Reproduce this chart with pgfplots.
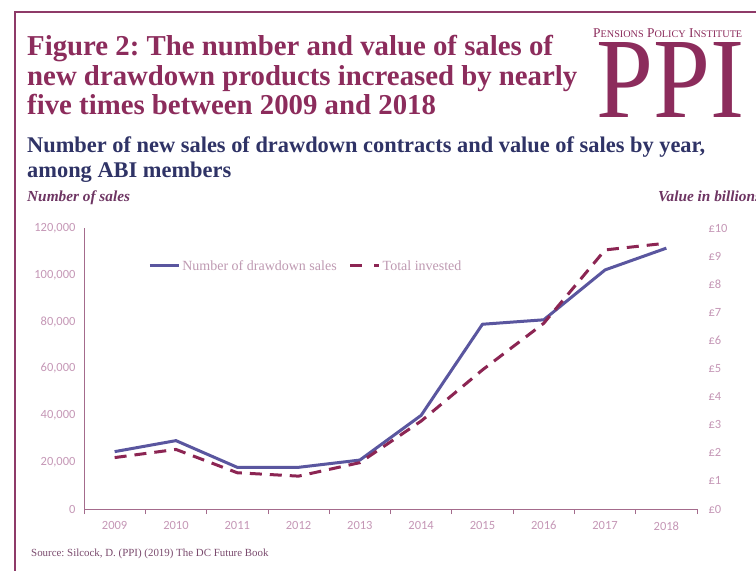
\documentclass[border=0pt]{standalone}
\usepackage{fontspec}
\setmainfont{Liberation Serif}
\newfontfamily\carlito{Carlito}
\usepackage{pgfplots}
\pgfplotsset{compat=1.18}
\usepackage{graphicx}
\definecolor{ppimaroon}{HTML}{8C2C5C}
\definecolor{framecol}{HTML}{8E3A68}
\definecolor{subnavy}{HTML}{2F3366}
\definecolor{axlab}{HTML}{6E3563}
\definecolor{ticklab}{HTML}{C597B6}
\definecolor{axiscol}{HTML}{A46B8C}
\definecolor{lineblue}{HTML}{5A569F}
\definecolor{linemaroon}{HTML}{8C2553}
\definecolor{legtext}{HTML}{BF9AB2}
\definecolor{srccol}{HTML}{7B4B6E}
\newcommand{\sccap}[2]{{\fontsize{10}{10}\selectfont #1}{\fontsize{7.6}{8}\selectfont #2}}
\frenchspacing
\begin{document}
\begin{tikzpicture}[x=1pt,y=1pt]
\fill[white] (0,0) rectangle (756,-571);
\draw[framecol, line width=2pt] (15,-575) -- (15,-12) -- (760,-12);
% titles
\begin{scope}[every node/.style={anchor=base west, inner sep=0pt, text=ppimaroon, font=\fontsize{28.8}{30}\selectfont\bfseries}]
\node at (27,-55) {Figure 2: The number and value of sales of};
\node at (27,-85) {new drawdown products increased by nearly};
\node at (27,-114) {five times between 2009 and 2018};
\end{scope}
\begin{scope}[every node/.style={anchor=base west, inner sep=0pt, text=subnavy, font=\fontsize{22.4}{24}\selectfont\bfseries}]
\node at (27,-152) {Number of new sales of drawdown contracts and value of sales by year,};
\node at (27,-177) {among ABI members};
\end{scope}
% logo
\node[anchor=base west, inner sep=0pt, text=ppimaroon] at (593,-37) {\resizebox{149pt}{!}{\sccap{P}{ENSIONS} \sccap{P}{OLICY} \sccap{I}{NSTITUTE}}};
\node[anchor=south west, inner sep=0pt, text=ppimaroon] at (596,-118) {\resizebox{148pt}{75pt}{\fontsize{100}{100}\selectfont PPI}};
% axis labels
\node[anchor=base west, inner sep=0pt, text=axlab, font=\fontsize{15.3}{16}\selectfont\bfseries\itshape] at (27,-201) {Number of sales};
\node[anchor=base west, inner sep=0pt, text=axlab, font=\fontsize{15.3}{16}\selectfont\bfseries\itshape] at (658,-201) {Value in billions};
% source
\node[anchor=base west, inner sep=0pt, text=srccol, font=\fontsize{10.9}{12}\selectfont] at (31,-556) {Source: Silcock, D. (PPI) (2019) The DC Future Book};

\begin{axis}[
  at={(84pt,-509pt)}, anchor=south west,
  scale only axis, width=613pt, height=281pt,
  xmin=-0.5, xmax=9.5, ymin=0, ymax=120000,
  axis x line*=bottom, axis y line*=left,
  axis line style={draw=axiscol, line width=1pt},
  xtick={0,1,2,3,4,5,6,7,8,9},
  xticklabels={2009,2010,2011,2012,2013,2014,2015,2016,2017,2018},
  ytick={0,20000,40000,60000,80000,100000,120000},
  yticklabels={0,{20,000},{40,000},{60,000},{80,000},{100,000},{120,000}},
  scaled y ticks=false,
  major tick length=0pt,
  minor xtick={-0.5,0.5,1.5,2.5,3.5,4.5,5.5,6.5,7.5,8.5,9.5},
  minor tick length=5pt,
  tick align=outside,
  every minor tick/.style={draw=axiscol, line width=0.8pt},
  ticklabel style={font=\carlito\fontsize{12.5}{14}\selectfont, text=ticklab},
  yticklabel style={xshift=-5pt},
  xticklabel style={yshift=-9pt},
  legend style={at={(0.362,0.865)}, anchor=center, draw=none, fill=none,
    font=\fontsize{14}{16}\selectfont, text=legtext,
    legend columns=2,
    /tikz/every even column/.append style={column sep=10pt}},
  legend image code/.code={\draw[#1] (0pt,0pt) -- (29pt,0pt);},
]
\addplot[lineblue, line width=3pt, line join=round] coordinates {
(0,24500) (1,29200) (2,17800) (3,17800) (4,20900) (5,40000) (6,78900) (7,80800) (8,102100) (9,111400)};
\addlegendentry{Number of drawdown sales}
\addlegendimage{linemaroon, line width=3pt, dash pattern=on 12pt off 12pt on 5pt off 20pt}
\addlegendentry{Total invested}
\end{axis}

\begin{axis}[
  at={(84pt,-509pt)}, anchor=south west,
  scale only axis, width=613pt, height=281pt,
  xmin=-0.5, xmax=9.5, ymin=0, ymax=10,
  axis x line=none, axis y line*=right,
  y axis line style={draw=none},
  ytick={0,1,2,3,4,5,6,7,8,9,10},
  yticklabels={£0,£1,£2,£3,£4,£5,£6,£7,£8,£9,£10},
  major tick length=0pt,
  ticklabel style={font=\carlito\fontsize{12.5}{14}\selectfont, text=ticklab},
  yticklabel style={xshift=8pt},
]
\addplot[linemaroon, line width=3pt, dash pattern=on 12pt off 8pt] coordinates {
(0,1.83) (1,2.12) (2,1.29) (3,1.17) (4,1.65) (5,3.13) (6,4.95) (7,6.61) (8,9.22) (9,9.46)};
\end{axis}
\pgfresetboundingbox
\useasboundingbox (0,0) rectangle (756,-571);
\end{tikzpicture}
\end{document}
